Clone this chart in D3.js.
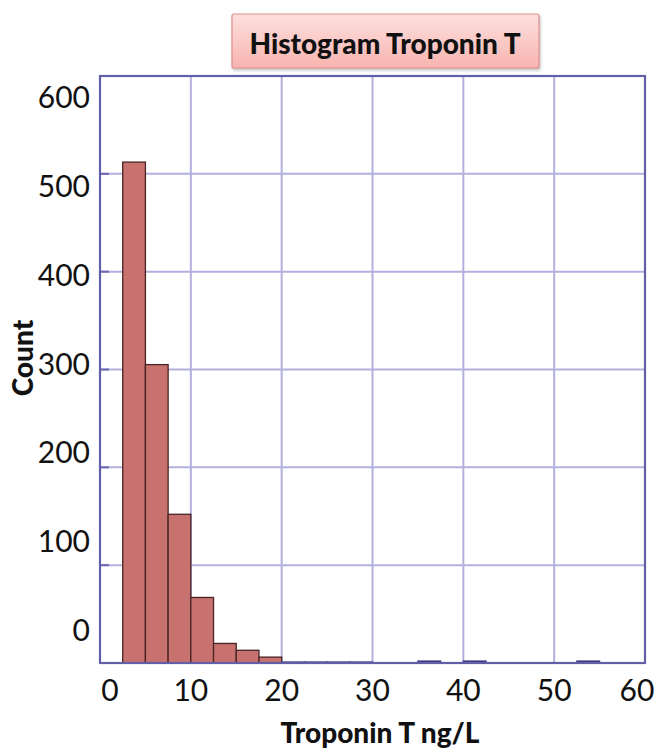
<!DOCTYPE html>
<html>
<head>
<meta charset="utf-8">
<script src="https://cdn.jsdelivr.net/npm/d3@7"></script>
<style>
html,body{margin:0;padding:0;background:#fff;}
svg{display:block;}
</style>
</head>
<body>
<svg id="chart" width="657" height="749"></svg>
<script>
// Data
const binStarts = [2.5,5,7.5,10,12.5,15,17.5,20,22.5,25,27.5,30,32.5,35,37.5,40,42.5,45,47.5,50,52.5,55,57.5];
const counts    = [512,305,152,67,20,13,6,1,1,1,1,0,0,2,0,2,0,0,0,0,2,0,0];
const binWidth = 2.5;
const xTicks = [0,10,20,30,40,50,60];
const yTicks = [0,100,200,300,400,500,600];
const title = "Histogram Troponin T";
const xLabel = "Troponin T ng/L";
const yLabel = "Count";

const svg = d3.select("#chart");
const font = "Lato, 'Open Sans', sans-serif";

const x = d3.scaleLinear().domain([0,60]).range([100,645]);
const y = d3.scaleLinear().domain([0,600]).range([663,76]);
// tick labels in the reference sit on their own spacing
const yLab = d3.scaleLinear().domain([0,600]).range([641,108]);

const defs = svg.append("defs");
const g1 = defs.append("linearGradient").attr("id","tg").attr("x1",0).attr("y1",0).attr("x2",0).attr("y2",1);
g1.append("stop").attr("offset","0%").attr("stop-color","#fde0de");
g1.append("stop").attr("offset","100%").attr("stop-color","#f8b4b0");
const f = defs.append("filter").attr("id","sh").attr("x","-10%").attr("y","-20%").attr("width","130%").attr("height","160%");
f.append("feDropShadow").attr("dx",1).attr("dy",2).attr("stdDeviation",1.5).attr("flood-color","#999").attr("flood-opacity",0.6);

// grid
svg.append("g").selectAll("line.gx").data(xTicks.slice(1,-1)).join("line")
  .attr("x1",d=>x(d)).attr("x2",d=>x(d)).attr("y1",y(600)).attr("y2",y(0))
  .attr("stroke","#b3b0de").attr("stroke-width",2);
svg.append("g").selectAll("line.gy").data(yTicks.slice(1,-1)).join("line")
  .attr("x1",x(0)).attr("x2",x(60)).attr("y1",d=>y(d)).attr("y2",d=>y(d))
  .attr("stroke","#b3b0de").attr("stroke-width",2);
// small ticks on left
svg.append("g").selectAll("line.ty").data(yTicks.slice(1,-1)).join("line")
  .attr("x1",x(0)).attr("x2",x(0)+9).attr("y1",d=>y(d)).attr("y2",d=>y(d))
  .attr("stroke","#6b68b0").attr("stroke-width",2);

// bars
svg.append("g").selectAll("rect").data(binStarts.map((s,i)=>({s,c:counts[i]})).filter(d=>d.c>0)).join("rect")
  .attr("x",d=>x(d.s)).attr("width",d=>x(d.s+binWidth)-x(d.s))
  .attr("y",d=>y(d.c)).attr("height",d=>y(0)-y(d.c))
  .attr("fill",d=>d.c>3?"#c7726e":"#3c3a80")
  .attr("stroke",d=>d.c>3?"#4a2424":"#3c3a80").attr("stroke-width",1.3);

// frame
svg.append("rect").attr("x",x(0)).attr("y",y(600)).attr("width",x(60)-x(0)).attr("height",y(0)-y(600))
  .attr("fill","none").attr("stroke","#625fa8").attr("stroke-width",2.2);

// y tick labels
svg.append("g").selectAll("text").data(yTicks).join("text")
  .attr("x",90).attr("y",d=>yLab(d)).attr("text-anchor","end")
  .attr("font-family",font).attr("font-size",30).attr("fill","#111").text(d=>d);
// x tick labels
svg.append("g").selectAll("text").data(xTicks).join("text")
  .attr("x",d=>x(d)+ (d===0?10:(d===60?-8:0))).attr("y",701).attr("text-anchor","middle")
  .attr("font-family",font).attr("font-size",30).attr("fill","#111").text(d=>d);

// axis titles
svg.append("text").attr("x",380).attr("y",743).attr("text-anchor","middle")
  .attr("font-family",font).attr("font-weight","900").attr("font-size",28).attr("fill","#111").text(xLabel);
svg.append("text").attr("transform","translate(33,358) rotate(-90)").attr("text-anchor","middle")
  .attr("font-family",font).attr("font-weight","900").attr("font-size",28).attr("fill","#111").text(yLabel);

// title box
svg.append("rect").attr("x",232).attr("y",14).attr("width",307).attr("height",54).attr("rx",2)
  .attr("fill","url(#tg)").attr("stroke","#e0908c").attr("stroke-width",1.2).attr("filter","url(#sh)");
svg.append("text").attr("x",385).attr("y",54).attr("text-anchor","middle")
  .attr("font-family",font).attr("font-weight","900").attr("font-size",28).attr("fill","#111").text(title);
</script>
</body>
</html>
